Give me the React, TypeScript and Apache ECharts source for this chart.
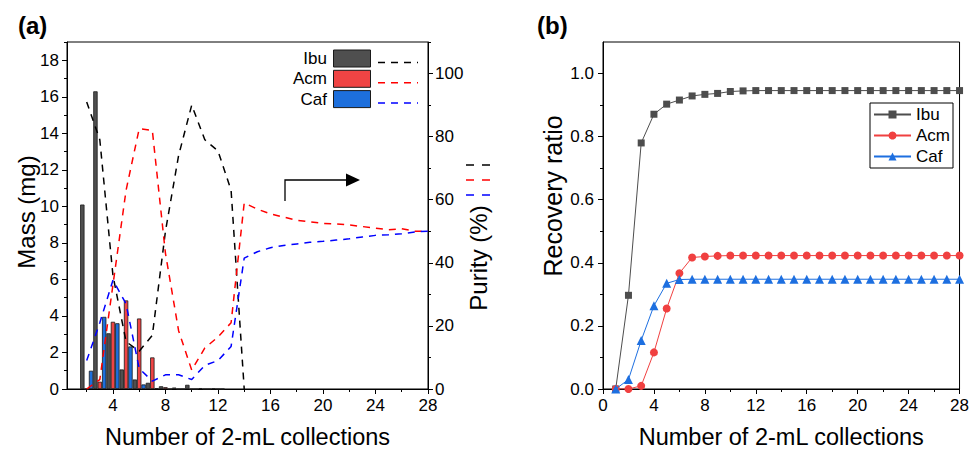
import React, { useEffect, useRef } from 'react';
import * as echarts from 'echarts';

const FONT = "'Liberation Sans', Arial, Helvetica, sans-serif";

// ---------- Panel (a): mass per collection ----------
const collections = [2, 3, 4, 5, 6, 7, 8, 9, 10, 11, 12];
const ibuMass = [10.1, 16.3, 3.05, 1.07, 0.52, 0.34, 0.15, 0.08, 0.23, 0.05, 0.03];
const acmMass = [0, 0.4, 3.68, 4.85, 3.86, 1.73, 0.1, 0, 0, 0, 0];
const cafMass = [1.0, 3.95, 3.6, 2.33, 0.25, 0.05, 0, 0, 0, 0, 0];

// purity (%) per collection
const ibuPurityX = [2, 3, 4, 5, 6, 7, 8, 9, 10, 11, 12, 13, 14];
const ibuPurity = [91, 79, 36, 15, 12, 17, 50, 74, 90, 79, 75.5, 63, 0];
const purityX = [2, 3, 4, 5, 6, 7, 8, 9, 10, 11, 12, 13, 14, 15, 16, 17, 18, 19, 20, 21, 22, 23, 24, 25, 26, 27, 28];
const acmPurity = [0, 3, 33, 63, 82.5, 82, 43, 18.5, 6, 13, 16.5, 21, 59, 57, 55.5, 54.5, 53.5, 53, 52.5, 52.3, 52, 51.5, 51, 50.5, 50.8, 50, 50];
const cafPurity = [9, 21, 34.5, 27, 6.5, 2.5, 4.5, 4.5, 3, 7.5, 9, 13.5, 41.5, 43.5, 44.8, 45.5, 46, 46.5, 46.8, 47.2, 47.6, 48.2, 48.7, 48.9, 49.2, 49.8, 50];

// ---------- Panel (b): cumulative recovery ----------
const recoveryX = [1, 2, 3, 4, 5, 6, 7, 8, 9, 10, 11, 12, 13, 14, 15, 16, 17, 18, 19, 20, 21, 22, 23, 24, 25, 26, 27, 28];
const ibuRecovery = [0, 0.297, 0.78, 0.871, 0.903, 0.916, 0.929, 0.934, 0.937, 0.943, 0.945, 0.946, 0.946, 0.946, 0.946, 0.946, 0.946, 0.946, 0.946, 0.946, 0.946, 0.946, 0.946, 0.946, 0.946, 0.946, 0.946, 0.946];
const acmRecovery = [0, 0, 0.01, 0.116, 0.255, 0.367, 0.417, 0.42, 0.422, 0.423, 0.423, 0.423, 0.423, 0.423, 0.423, 0.423, 0.423, 0.423, 0.423, 0.423, 0.423, 0.423, 0.423, 0.423, 0.423, 0.423, 0.423, 0.423];
const cafRecovery = [0, 0.03, 0.154, 0.264, 0.335, 0.347, 0.348, 0.348, 0.348, 0.348, 0.348, 0.348, 0.348, 0.348, 0.348, 0.348, 0.348, 0.348, 0.348, 0.348, 0.348, 0.348, 0.348, 0.348, 0.348, 0.348, 0.348, 0.348];

// ---------- ticks ----------
const aXMajor = [4, 8, 12, 16, 20, 24, 28];
const aXMinor = [2, 6, 10, 14, 18, 22, 26];
const massMajor = [0, 2, 4, 6, 8, 10, 12, 14, 16, 18];
const massMinor = [1, 3, 5, 7, 9, 11, 13, 15, 17, 19];
const purityMajor = [0, 20, 40, 60, 80, 100];
const purityMinor = [10, 30, 50, 70, 90, 110];
const bXMajor = [0, 4, 8, 12, 16, 20, 24, 28];
const bXMinor = [2, 6, 10, 14, 18, 22, 26];
const ratioMajor = [0, 0.2, 0.4, 0.6, 0.8, 1.0];
const ratioMinor = [0.1, 0.3, 0.5, 0.7, 0.9];

const speciesNames = ['Ibu', 'Acm', 'Caf'];
const barColors = ['#4f4f4f', '#f04444', '#1d6fdc'];
const dashColors = ['#000000', '#ff0000', '#0000ff'];
const lineColors = ['#4d4d4d', '#f04040', '#1d6fe0'];

const pairs = (xs: number[], ys: number[]) => ys.map((y, i) => [xs[i], y]);

export default function App() {
  const ref = useRef<HTMLDivElement>(null);
  useEffect(() => {
    const chart = echarts.init(ref.current!, null, { renderer: 'svg' });
    const axisLine = { show: true, lineStyle: { color: '#000', width: 1 } };
    const noLine = { show: false };
    const label = (vals: number[], margin: number, fmt?: (v: number) => string) => {
      const o: any = { show: true, customValues: vals, fontSize: 17, color: '#000', fontFamily: FONT, margin };
      if (fmt) o.formatter = fmt;
      return o;
    };
    const tick = (vals: number[], length: number) => ({
      show: true, customValues: vals, length, inside: false, lineStyle: { color: '#000', width: 1 },
    });
    const nameStyle = { fontSize: 23.5, color: '#000', fontFamily: FONT };

    const barSeries = [ibuMass, acmMass, cafMass].map((vals, i) => ({
      type: 'bar',
      name: speciesNames[i] + ' mass',
      xAxisIndex: 0,
      yAxisIndex: 0,
      data: pairs(collections, vals),
      barGap: '0%',
      barCategoryGap: '0%',
      itemStyle: { color: barColors[i], borderColor: '#1a1a1a', borderWidth: 0.8 },
      z: 2,
    }));

    const purityData = [pairs(ibuPurityX, ibuPurity), pairs(purityX, acmPurity), pairs(purityX, cafPurity)];
    const puritySeries = purityData.map((d, i) => ({
      type: 'line',
      name: speciesNames[i] + ' purity',
      xAxisIndex: 0,
      yAxisIndex: 2,
      data: d,
      symbol: 'none',
      lineStyle: { color: dashColors[i], width: 1.5, type: [7, 6] },
      z: 3,
    }));

    const symbols = ['rect', 'circle', 'triangle'];
    const symbolSizes = [7, 8, 9];
    const recoveryData = [ibuRecovery, acmRecovery, cafRecovery];
    const recoverySeries = recoveryData.map((vals, i) => ({
      type: 'line',
      name: speciesNames[i],
      xAxisIndex: 2,
      yAxisIndex: 4,
      data: pairs(recoveryX, vals),
      symbol: symbols[i],
      symbolSize: symbolSizes[i],
      itemStyle: { color: lineColors[i] },
      lineStyle: { color: lineColors[i], width: 1 },
      z: 3 + i,
    }));

    const legendGraphics: any[] = [];
    speciesNames.forEach((n, i) => {
      const top = 50 + i * 20.3;
      legendGraphics.push({
        type: 'text', x: 327, y: top + 8.5,
        style: { text: n, fontSize: 17, fontFamily: FONT, fill: '#000', align: 'right', verticalAlign: 'middle' },
      });
      legendGraphics.push({
        type: 'rect', shape: { x: 333.5, y: top, width: 37, height: 17 },
        style: { fill: barColors[i], stroke: '#1a1a1a', lineWidth: 1 },
      });
      legendGraphics.push({
        type: 'line', shape: { x1: 378, y1: top + 12.5, x2: 418, y2: top + 12.5 },
        style: { stroke: dashColors[i], lineWidth: 1.5, lineDash: [7, 6] },
      });
      legendGraphics.push({
        type: 'line', shape: { x1: 466, y1: 165 + i * 15, x2: 492, y2: 165 + i * 15 },
        style: { stroke: dashColors[i], lineWidth: 1.5, lineDash: [8, 8] },
      });
    });

    const option: any = {
      animation: false,
      textStyle: { fontFamily: FONT },
      grid: [
        { left: 67, top: 42, width: 361, height: 351, show: true, borderColor: '#000', borderWidth: 1, backgroundColor: 'transparent' },
        { left: 603, top: 42, width: 360, height: 351, show: true, borderColor: '#000', borderWidth: 1, backgroundColor: 'transparent' },
      ],
      xAxis: [
        {
          gridIndex: 0, type: 'value', min: 0.5, max: 28, position: 'bottom',
          axisLine, axisTick: tick(aXMajor, 5), axisLabel: label(aXMajor, 8), splitLine: { show: false },
          name: 'Number of 2-mL collections', nameLocation: 'middle', nameGap: 36, nameTextStyle: nameStyle,
        },
        {
          gridIndex: 0, type: 'value', min: 0.5, max: 28, position: 'bottom',
          axisLine: noLine, axisTick: tick(aXMinor, 3), axisLabel: { show: false }, splitLine: { show: false },
        },
        {
          gridIndex: 1, type: 'value', min: 0, max: 28, position: 'bottom',
          axisLine, axisTick: tick(bXMajor, 5), axisLabel: label(bXMajor, 8), splitLine: { show: false },
          name: 'Number of 2-mL collections', nameLocation: 'middle', nameGap: 36, nameTextStyle: nameStyle,
        },
        {
          gridIndex: 1, type: 'value', min: 0, max: 28, position: 'bottom',
          axisLine: noLine, axisTick: tick(bXMinor, 3), axisLabel: { show: false }, splitLine: { show: false },
        },
      ],
      yAxis: [
        {
          gridIndex: 0, type: 'value', min: 0, max: 19, position: 'left',
          axisLine, axisTick: tick(massMajor, 5), axisLabel: label(massMajor, 8), splitLine: { show: false },
        },
        {
          gridIndex: 0, type: 'value', min: 0, max: 19, position: 'left',
          axisLine: noLine, axisTick: tick(massMinor, 3), axisLabel: { show: false }, splitLine: { show: false },
        },
        {
          gridIndex: 0, type: 'value', min: 0, max: 110, position: 'right',
          axisLine, axisTick: tick(purityMajor, 5), axisLabel: label(purityMajor, 7), splitLine: { show: false },
        },
        {
          gridIndex: 0, type: 'value', min: 0, max: 110, position: 'right',
          axisLine: noLine, axisTick: tick(purityMinor, 3), axisLabel: { show: false }, splitLine: { show: false },
        },
        {
          gridIndex: 1, type: 'value', min: 0, max: 1.1, position: 'left',
          axisLine, axisTick: tick(ratioMajor, 5), axisLabel: label(ratioMajor, 9, (v: number) => v.toFixed(1)), splitLine: { show: false },
        },
        {
          gridIndex: 1, type: 'value', min: 0, max: 1.1, position: 'left',
          axisLine: noLine, axisTick: tick(ratioMinor, 3), axisLabel: { show: false }, splitLine: { show: false },
        },
      ],
      legend: [
        {
          data: speciesNames,
          left: 870, top: 103, orient: 'vertical',
          itemWidth: 37, itemHeight: 10, itemGap: 4,
          padding: [3, 3, 3, 3],
          borderColor: '#000', borderWidth: 1, borderRadius: 0,
          selectedMode: false,
          textStyle: { fontSize: 17, color: '#000', fontFamily: FONT, lineHeight: 17 },
        },
      ],
      graphic: [
        { type: 'text', x: 18, y: 25, style: { text: '(a)', fontSize: 24, fontWeight: 'bold', fontFamily: FONT, fill: '#000', verticalAlign: 'middle' } },
        { type: 'text', x: 537, y: 25, style: { text: '(b)', fontSize: 24, fontWeight: 'bold', fontFamily: FONT, fill: '#000', verticalAlign: 'middle' } },
        { type: 'text', x: 26, y: 212, rotation: Math.PI / 2, style: { text: 'Mass (mg)', fontSize: 24, fontFamily: FONT, fill: '#000', align: 'center', verticalAlign: 'middle' } },
        { type: 'text', x: 478, y: 258, rotation: Math.PI / 2, style: { text: 'Purity (%)', fontSize: 24, fontFamily: FONT, fill: '#000', align: 'center', verticalAlign: 'middle' } },
        { type: 'text', x: 553, y: 196, rotation: Math.PI / 2, style: { text: 'Recovery ratio', fontSize: 25, fontFamily: FONT, fill: '#000', align: 'center', verticalAlign: 'middle' } },
        { type: 'polyline', shape: { points: [[285, 201], [285, 180], [347, 180]] }, style: { stroke: '#000', lineWidth: 1.3, fill: null } },
        { type: 'polygon', shape: { points: [[346, 173.5], [360, 180], [346, 186.5]] }, style: { fill: '#000' } },
        ...legendGraphics,
      ],
      series: [...barSeries, ...puritySeries, ...recoverySeries],
    };
    chart.setOption(option);
    return () => chart.dispose();
  }, []);
  return <div ref={ref} style={{ position: 'absolute', left: 0, top: 0, width: 972, height: 454, background: '#fff' }} />;
}
